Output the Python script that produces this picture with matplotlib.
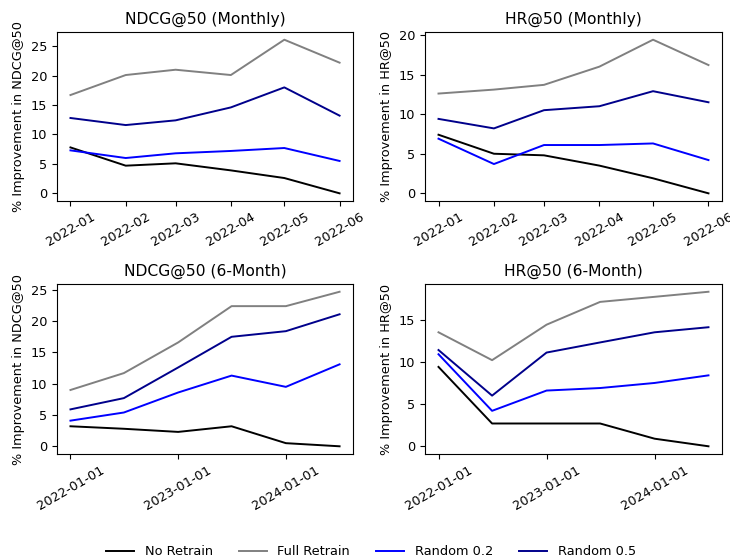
import numpy as np
import pandas as pd
import matplotlib
matplotlib.use('Agg')
import matplotlib.pyplot as plt
import matplotlib.dates as mdates
from matplotlib.ticker import MultipleLocator

# x positions
monthly_dates = pd.to_datetime(['2022-01-01', '2022-02-01', '2022-03-01',
                                '2022-04-01', '2022-05-01', '2022-06-01'])
sixmonth_dates = pd.to_datetime(['2022-01-01', '2022-07-01', '2023-01-01',
                                 '2023-07-01', '2024-01-01', '2024-07-01'])

methods = ['No Retrain', 'Full Retrain', 'Random 0.2', 'Random 0.5']
colors = ['black', 'gray', 'blue', 'darkblue']

# % improvement
ndcg_monthly_no = [7.8, 4.7, 5.1, 3.9, 2.6, 0.0]
ndcg_monthly_full = [16.7, 20.1, 21.0, 20.1, 26.1, 22.2]
ndcg_monthly_r02 = [7.3, 6.0, 6.8, 7.2, 7.7, 5.5]
ndcg_monthly_r05 = [12.8, 11.6, 12.4, 14.6, 18.0, 13.2]

hr_monthly_no = [7.4, 5.0, 4.8, 3.5, 1.9, 0.0]
hr_monthly_full = [12.6, 13.1, 13.7, 16.0, 19.4, 16.2]
hr_monthly_r02 = [6.9, 3.7, 6.1, 6.1, 6.3, 4.2]
hr_monthly_r05 = [9.4, 8.2, 10.5, 11.0, 12.9, 11.5]

ndcg_6m_no = [3.2, 2.8, 2.3, 3.2, 0.5, 0.0]
ndcg_6m_full = [9.0, 11.7, 16.6, 22.4, 22.4, 24.7]
ndcg_6m_r02 = [4.1, 5.4, 8.6, 11.3, 9.5, 13.1]
ndcg_6m_r05 = [5.9, 7.7, 12.6, 17.5, 18.4, 21.1]

hr_6m_no = [9.4, 2.7, 2.7, 2.7, 0.9, 0.0]
hr_6m_full = [13.5, 10.2, 14.4, 17.1, 17.7, 18.3]
hr_6m_r02 = [10.9, 4.2, 6.6, 6.9, 7.5, 8.4]
hr_6m_r05 = [11.4, 6.0, 11.1, 12.3, 13.5, 14.1]

panels = [
    ('NDCG@50 (Monthly)', 'NDCG@50', monthly_dates,
     [ndcg_monthly_no, ndcg_monthly_full, ndcg_monthly_r02, ndcg_monthly_r05]),
    ('HR@50 (Monthly)', 'HR@50', monthly_dates,
     [hr_monthly_no, hr_monthly_full, hr_monthly_r02, hr_monthly_r05]),
    ('NDCG@50 (6-Month)', 'NDCG@50', sixmonth_dates,
     [ndcg_6m_no, ndcg_6m_full, ndcg_6m_r02, ndcg_6m_r05]),
    ('HR@50 (6-Month)', 'HR@50', sixmonth_dates,
     [hr_6m_no, hr_6m_full, hr_6m_r02, hr_6m_r05]),
]

plt.rcParams['font.size'] = 9.3

fig = plt.figure(figsize=(7.3, 5.59), dpi=100)
rects = [(0.0781, 0.6404, 0.4055, 0.3023),
         (0.5822, 0.6404, 0.4068, 0.3023),
         (0.0781, 0.1878, 0.4055, 0.3041),
         (0.5822, 0.1878, 0.4068, 0.3041)]

axes = []
for rect, (title, metric, dates, series) in zip(rects, panels):
    ax = fig.add_axes(rect)
    axes.append(ax)
    for name, vals, c in zip(methods, series, colors):
        ax.plot(dates, vals, color=c, label=name, linewidth=1.4)
    ax.set_title(title, fontsize=11.2)
    ax.set_ylabel(f'% Improvement in {metric}')
    ax.yaxis.set_major_locator(MultipleLocator(5))
    if 'Monthly' in title:
        ax.xaxis.set_major_locator(mdates.MonthLocator())
        ax.xaxis.set_major_formatter(mdates.DateFormatter('%Y-%m'))
    else:
        ax.xaxis.set_major_locator(mdates.YearLocator())
        ax.xaxis.set_major_formatter(mdates.DateFormatter('%Y-%m-%d'))
    ax.tick_params(axis='x', labelrotation=30)

handles, labels = axes[0].get_legend_handles_labels()
fig.legend(handles, labels, loc='center', ncol=4, frameon=False,
           bbox_to_anchor=(0.508, 0.013), handlelength=2.2)

plt.savefig('out.png', dpi=100)
